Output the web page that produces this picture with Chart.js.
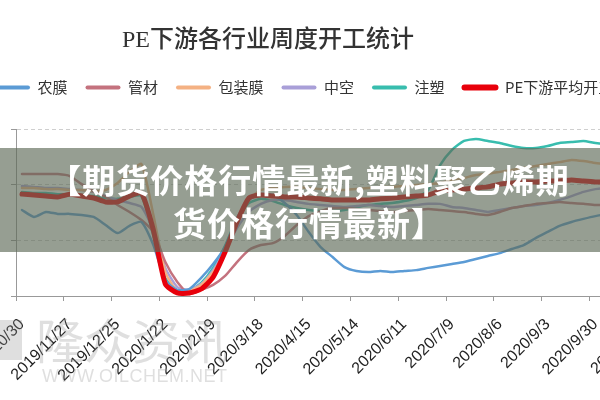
<!DOCTYPE html>
<html>
<head>
<meta charset="utf-8">
<script src="https://cdn.jsdelivr.net/npm/chart.js@4.4.0/dist/chart.umd.min.js"></script>
<style>
  html, body { margin: 0; padding: 0; background: #fff; }
  #wrap { position: relative; width: 600px; height: 400px; overflow: hidden; }
  #c { position: absolute; left: -23px; top: 0; }
  #title { position: absolute; left: 68px; top: 22px; width: 400px; text-align: center;
           font: 500 24px "Liberation Serif", "Noto Sans CJK SC"; line-height: 34px; color: #333; }
  #mark { position: absolute; left: 0; top: 300px; width: 260px; height: 100px; color: rgba(150,150,150,0.3); }
  #mark .logo { position: absolute; left: 0; top: 20px; width: 22px; height: 40px; background: rgba(150,150,150,0.3); }
  #mark .cn { position: absolute; left: 36px; top: 8px; font: 48px "Noto Sans CJK SC"; line-height: 60px; }
  #mark .en { position: absolute; left: 42px; top: 66px; font: 18px "Liberation Sans"; letter-spacing: 0.5px; }
  #band { position: absolute; left: 0; top: 148px; width: 600px; height: 104px; background: rgba(93,106,87,0.65); }
  #band div { position: absolute; left: 39px; top: 10px; width: 540px; text-align: center; color: #fff;
              font: bold 33px "Noto Sans CJK SC"; line-height: 43px; letter-spacing: 1px; }
</style>
</head>
<body>
<div id="wrap">
  <canvas id="c" width="708" height="400"></canvas>
  <div id="title">PE下游各行业周度开工统计</div>
  <div id="mark"><div class="logo"></div><div class="cn">隆众资讯</div><div class="en">WWW.OILCHEM.NET</div></div>
  <div id="band"><div>【期货价格行情最新,塑料聚乙烯期货价格行情最新】</div></div>
</div>
<script>
// weekly dates, one label shown every 4 weeks
const dates = [
  '2019/10/30','2019/11/6','2019/11/13','2019/11/20','2019/11/27','2019/12/4','2019/12/11','2019/12/18',
  '2019/12/25','2020/1/1','2020/1/8','2020/1/15','2020/1/22','2020/1/29','2020/2/5','2020/2/12',
  '2020/2/19','2020/2/26','2020/3/4','2020/3/11','2020/3/18','2020/3/25','2020/4/1','2020/4/8',
  '2020/4/15','2020/4/23','2020/4/30','2020/5/7','2020/5/14','2020/5/21','2020/5/28','2020/6/4',
  '2020/6/11','2020/6/18','2020/6/24','2020/7/2','2020/7/9','2020/7/16','2020/7/23','2020/7/30',
  '2020/8/6','2020/8/13','2020/8/20','2020/8/27','2020/9/3','2020/9/10','2020/9/17','2020/9/24',
  '2020/9/30','2020/10/15','2020/10/22','2020/10/29','2020/11/5','2020/11/12','2020/11/19','2020/11/26'
];

const nongmo = [
  30.9, 28.4, 30.2, 29.5, 29.5, 29.1, 28.4, 25.5, 22.6, 25.2,
  26.6, 18.3, 5.7, 2.2, 2.5, 6.5, 11.5, 17.6, 28.0, 34.5,
  36.6, 36.3, 33.4, 29.1, 23.0, 17.6, 14.0, 10.4, 9.0, 8.6,
  9.0, 8.6, 9.0, 9.3, 10.1, 10.8, 11.5, 12.2, 13.3, 14.4,
  15.4, 16.9, 18.3, 20.8, 23.0, 25.2, 26.6, 27.7, 28.7, 29.5,
  30.2, 30.5, 30.9, 31.3, 31.6, 31.6
];
const guancai = [
  43.8, 43.8, 43.8, 43.8, 43.1, 40.2, 37.7, 35.6, 32.7, 30.2,
  27.3, 23.0, 12.2, 5.0, 0.7, 2.2, 4.0, 7.2, 12.2, 16.5,
  18.3, 19.0, 21.6, 25.5, 28.7, 30.5, 31.6, 31.6, 31.3, 30.9,
  30.5, 30.2, 30.5, 30.9, 31.3, 30.9, 30.5, 30.2, 29.5, 29.1,
  30.2, 31.6, 32.3, 33.1, 33.4, 33.8, 33.4, 33.1, 32.7, 32.7,
  33.1, 33.1, 33.4, 33.4, 33.1, 33.1
];
const baozhuang = [
  38.8, 38.8, 38.4, 38.4, 38.1, 38.1, 37.7, 38.1, 40.6, 44.6,
  47.4, 29.1, 8.6, 1.8, 1.8, 4.0, 8.6, 15.8, 26.6, 34.5,
  38.1, 38.8, 39.2, 39.2, 38.8, 38.4, 38.1, 38.1, 38.4, 38.8,
  39.2, 39.2, 39.5, 39.9, 40.2, 40.6, 41.7, 42.4, 43.5, 43.9,
  44.6, 45.3, 46.0, 46.7, 47.4, 48.1, 48.9, 48.5, 47.8, 47.4,
  47.1, 47.4, 47.8, 47.4, 47.1, 47.4
];
const zhongkong = [
  39.5, 39.2, 38.8, 38.8, 38.4, 38.1, 37.4, 35.9, 34.5, 33.4,
  32.0, 23.7, 10.1, 3.2, 2.2, 4.3, 9.3, 16.5, 24.4, 30.2,
  33.1, 34.5, 34.5, 33.8, 33.1, 32.7, 32.3, 32.0, 32.3, 32.7,
  32.3, 32.0, 32.3, 32.7, 33.1, 33.1, 32.0, 31.6, 30.9, 30.2,
  30.9, 31.6, 32.3, 32.7, 33.4, 34.5, 35.9, 37.4, 38.4, 38.8,
  38.8, 39.2, 38.8, 38.4, 38.8, 38.8
];
const zhusu = [
  37.4, 37.0, 37.0, 36.6, 36.6, 36.3, 35.9, 35.2, 34.9, 35.6,
  35.9, 21.6, 6.5, 1.8, 1.8, 4.7, 10.1, 18.0, 28.0, 33.4,
  34.9, 34.1, 32.7, 31.6, 30.9, 30.5, 30.5, 30.9, 31.9, 32.7,
  33.1, 33.4, 34.1, 35.2, 38.1, 47.0, 52.5, 55.7, 56.4, 55.7,
  55.0, 53.9, 53.2, 53.2, 53.9, 55.0, 55.3, 55.7, 55.0, 54.6,
  55.0, 55.3, 55.7, 55.3, 55.0, 55.3
];
const peTotal = [
  36.6, 36.3, 35.9, 35.6, 36.6, 35.9, 35.2, 33.8, 33.8, 35.9,
  37.0, 23.7, 4.3, 1.1, 1.1, 2.5, 6.8, 15.8, 26.6, 35.2,
  36.3, 35.9, 35.6, 35.6, 35.2, 34.9, 34.5, 34.5, 34.5, 34.5,
  34.9, 35.2, 35.6, 35.9, 36.3, 37.7, 38.1, 38.4, 38.8, 39.2,
  40.2, 40.6, 41.0, 41.0, 41.3, 41.3, 41.7, 41.3, 41.0, 41.0,
  40.6, 41.0, 41.3, 41.0, 40.6, 41.0
];

const names = ['农膜', '管材', '包装膜', '中空', '注塑', 'PE下游平均开工率'];
const colors = ['#5b9bd5', '#c4727e', '#f4b183', '#a99fd8', '#38bdae', '#e8000b'];
const series = [nongmo, guancai, baozhuang, zhongkong, zhusu, peTotal];

const datasets = series.map((d, i) => ({
  label: names[i],
  data: d,
  borderColor: colors[i],
  backgroundColor: colors[i],
  borderWidth: i === 5 ? 5 : 2.5,
  order: i === 5 ? -1 : i
}));

new Chart(document.getElementById('c'), {
  type: 'line',
  data: { labels: dates, datasets: datasets },
  options: {
    responsive: false,
    animation: false,
    layout: { padding: { top: 62, left: 0, right: 0, bottom: 0 } },
    elements: {
      point: { radius: 0 },
      line: { tension: 0.2, borderCapStyle: 'round', borderJoinStyle: 'round' }
    },
    plugins: {
      tooltip: { enabled: false },
      // empty spacer between legend and plot
      title: { display: true, text: '', padding: 0, font: { size: 20, lineHeight: 1.2 } },
      legend: {
        position: 'top',
        align: 'start',
        weight: 3000,
        labels: {
          boxWidth: 35,
          boxHeight: 4,
          padding: 18,
          color: '#333',
          font: { family: 'Noto Sans CJK SC', size: 15 },
          useBorderRadius: true,
          borderRadius: 2,
          sort: (a, b) => a.datasetIndex - b.datasetIndex,
          generateLabels: chart => Chart.defaults.plugins.legend.labels.generateLabels(chart).map(l => {
            l.lineWidth = l.datasetIndex === 5 ? 2 : 0;
            return l;
          })
        }
      }
    },
    scales: {
      x: {
        offset: true,
        grid: {
          offset: true,
          drawOnChartArea: false,
          tickLength: 5,
          tickColor: ctx => (ctx.index % 4 === 0 ? '#999' : 'rgba(0,0,0,0)')
        },
        border: { color: '#999', width: 1 },
        ticks: {
          autoSkip: false,
          minRotation: 45,
          maxRotation: 45,
          padding: 14,
          color: '#222',
          font: { family: 'Liberation Sans', size: 16 },
          callback: (v, i) => (i % 4 === 0 ? dates[i] : '')
        },
        afterFit: s => { s.height = 104; s.paddingLeft = 0; s.paddingRight = 0; }
      },
      y: {
        min: 0,
        max: 60,
        ticks: { stepSize: 20, display: false },
        grid: { color: '#cfcfcf', tickLength: 5, tickColor: '#999' },
        border: { color: '#999', width: 1, dash: [4, 3] },
        afterFit: s => { s.width = 39; s.paddingTop = 0; s.paddingBottom = 0; }
      }
    }
  }
});
</script>
</body>
</html>
